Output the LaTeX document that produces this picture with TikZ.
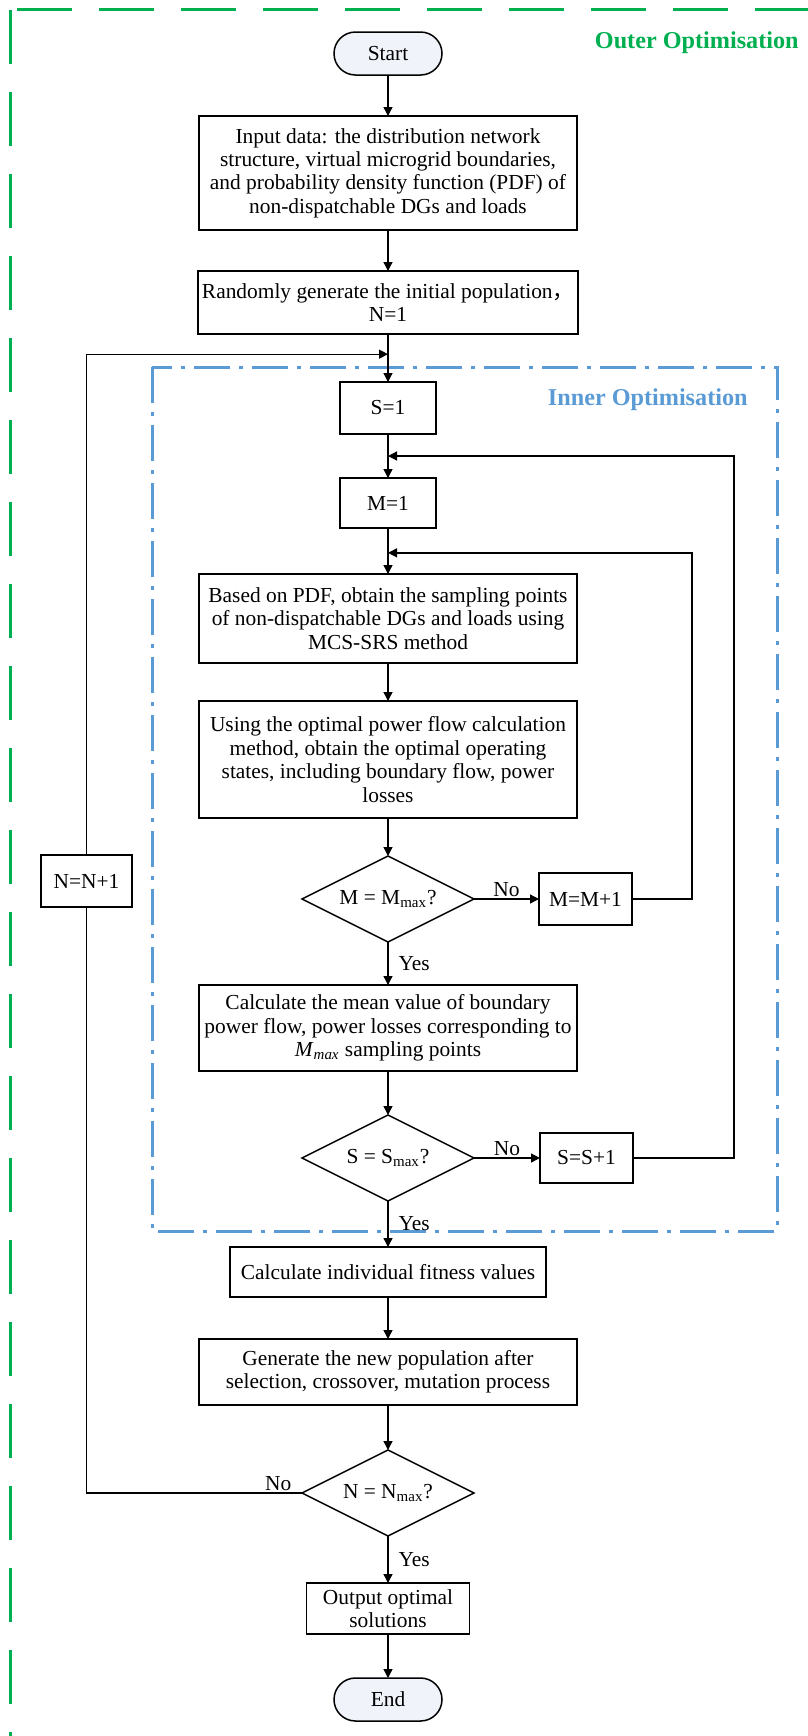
\documentclass[tikz,border=0pt]{standalone}
\usepackage{fontspec}
\setmainfont{Liberation Serif}
\newfontfamily\cjk{Noto Sans CJK SC}
\usetikzlibrary{positioning,calc,shapes.geometric,arrows.meta}
\definecolor{outergreen}{RGB}{0,176,80}
\definecolor{innerblue}{RGB}{91,155,213}
\definecolor{termfill}{RGB}{240,244,250}
\tikzset{
	my box/.style = {rectangle, draw, line width=0.75pt, outer sep=0pt, inner sep=2pt, align=center, font=\fontsize{10.7}{11.7}\selectfont}, % process steps
	my term/.style = {my box, rounded corners=10.75pt, minimum width=54pt, minimum height=21.5pt, fill=termfill}, % start and end
	my dec/.style = {diamond, draw, line width=0.75pt, outer sep=0pt, aspect=2, inner sep=0pt, minimum width=86pt, minimum height=43pt, font=\fontsize{10.7}{11.7}\selectfont},
	my edge/.style = {line width=0.65pt},
	my arrow/.style = {my edge, -{Triangle[length=4.5pt,width=4.5pt]}},
	my label/.style = {inner sep=1pt, font=\fontsize{10.7}{11.7}\selectfont},
	my title/.style = {anchor=east, inner sep=0pt, font=\bfseries\fontsize{12.1}{14}\selectfont}
}
\begin{document}
\begin{tikzpicture}[x=0.5pt,y=-0.5pt]
            \useasboundingbox (0,0) rectangle (808,1736);
            % frames of the two loops
            \draw[outergreen, line width=1.6pt, dash pattern=on 27pt off 14pt] (10.7,10) -- (10.7,1745);
            \draw[outergreen, line width=1.6pt, dash pattern=on 27.5pt off 13.5pt] (17,9.3) -- (815,9.3);
            \draw[innerblue, line width=1.5pt, dash pattern=on 18pt off 4.5pt on 2pt off 4.5pt] (152,367) rectangle (777,1231);
            \node[my title, text=outergreen] (outer) at (799,43) {Outer Optimisation};
            \node[my title, text=innerblue] (inner) at (748,400) {Inner Optimisation};
            % main column
            \node[my term] (start) at (388,53.5) {Start};
            \node[my box, minimum width=189pt, minimum height=57pt, below=20.5pt of start] (input) {Input data: the distribution network\\ structure, virtual microgrid boundaries,\\ and probability density function (PDF) of\\ non-dispatchable DGs and loads};
            \node[my box, minimum width=189pt, minimum height=31.5pt, below=20.5pt of input] (random) {Randomly generate the initial population{\cjk ，}\\ N=1};
            \node[my box, minimum width=48pt, minimum height=26pt, below=24pt of random] (s1) {S=1};
            \node[my box, minimum width=48pt, minimum height=25pt, below=22pt of s1] (m1) {M=1};
            \node[my box, minimum width=189pt, minimum height=44.5pt, below=23pt of m1] (pdf) {Based on PDF, obtain the sampling points\\ of non-dispatchable DGs and loads using\\ MCS-SRS method};
            \node[my box, minimum width=189pt, minimum height=58.5pt, below=19pt of pdf] (opf) {Using the optimal power flow calculation\\ method, obtain the optimal operating\\ states, including boundary flow, power\\ losses};
            \node[my dec, below=19pt of opf] (mmax) {M = M\textsubscript{max}?};
            \node[my box, minimum width=46.5pt, minimum height=26pt, right=32.5pt of mmax] (mnext) {M=M+1};
            \node[my box, minimum width=189pt, minimum height=43pt, below=21.5pt of mmax] (mean) {Calculate the mean value of boundary\\ power flow, power losses corresponding to\\ \textit{M}\textsubscript{\textit{max}} sampling points};
            \node[my dec, below=22pt of mean] (smax) {S = S\textsubscript{max}?};
            \node[my box, minimum width=46.5pt, minimum height=25pt, right=33pt of smax] (snext) {S=S+1};
            \node[my box, minimum width=158pt, minimum height=25pt, below=23pt of smax] (fit) {Calculate individual fitness values};
            \node[my box, minimum width=189pt, minimum height=33pt, below=21pt of fit] (gen) {Generate the new population after\\ selection, crossover, mutation process};
            \node[my dec, below=22.5pt of gen] (nmax) {N = N\textsubscript{max}?};
            \node[my box, minimum width=81.5pt, minimum height=25.5pt, below=23.5pt of nmax] (out) {Output optimal\\ solutions};
            \node[my term, below=22pt of out] (end) {End};
            \node[my box, minimum width=45.5pt, minimum height=26pt] (nnext) at (86.5,881) {N=N+1};
            % join points of the loops
            \coordinate (njoin) at ($(random.south)!0.42!(s1.north)$);
            \coordinate (sjoin) at ($(s1.south)!0.5!(m1.north)$);
            \coordinate (mjoin) at ($(m1.south)!0.54!(pdf.north)$);
            \draw[my arrow] (start) -- (input);
            \draw[my arrow] (input) -- (random);
            \draw[my arrow] (random) -- (s1);
            \draw[my arrow] (s1) -- (m1);
            \draw[my arrow] (m1) -- (pdf);
            \draw[my arrow] (pdf) -- (opf);
            \draw[my arrow] (opf) -- (mmax);
            \draw[my arrow] (mmax) -- node[my label, above]{No} (mnext);
            \draw[my arrow] (mmax) -- node[my label, right=4pt]{Yes} (mean);
            \draw[my arrow] (mean) -- (smax);
            \draw[my arrow] (smax) -- node[my label, above]{No} (snext);
            \draw[my arrow] (smax) -- node[my label, right=4pt]{Yes} (fit);
            \draw[my arrow] (fit) -- (gen);
            \draw[my arrow] (gen) -- (nmax);
            \draw[my arrow] (nmax) -- node[my label, right=4pt]{Yes} (out);
            \draw[my arrow] (out) -- (end);
            \draw[my arrow] (mnext.east) -- ++(30pt,0) |- (mjoin);
            \draw[my arrow] (snext.east) -- ++(50.5pt,0) |- (sjoin);
            \draw[my edge] (nmax.west) node[my label, above left, xshift=-4pt]{No} -| (nnext.south);
            \draw[my arrow] (nnext.north) |- (njoin);
        \end{tikzpicture}
\end{document}
